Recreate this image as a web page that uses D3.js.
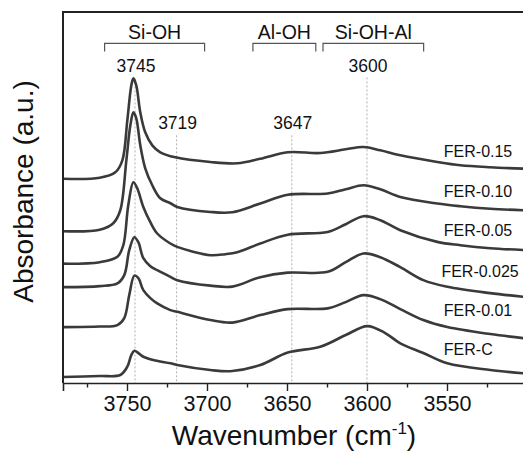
<!DOCTYPE html>
<html>
<head>
<meta charset="utf-8">
<script src="https://cdn.jsdelivr.net/npm/d3@7"></script>
<style>
  body { margin: 0; background: #fff; }
  text { font-family: "Liberation Sans", Arial, sans-serif; fill: #111; }
</style>
</head>
<body>
<div id="chart-area"></div>
<script>
// FTIR spectra, OH stretching region, offset stacked (a.u.)
var labels = ["FER-0.15", "FER-0.10", "FER-0.05", "FER-0.025", "FER-0.01", "FER-C"];

var fer015 = [[3790,2.045],[3767,2.055],[3757.3,2.11],[3752.9,2.23],[3749.8,2.63],[3747.3,2.98],[3746,3.05],[3744.2,2.98],[3741.7,2.71],[3738.6,2.51],[3734.2,2.38],[3729.2,2.31],[3719.8,2.26],[3697.9,2.213],[3681.1,2.20],[3666.7,2.245],[3649.5,2.31],[3629.2,2.303],[3613.3,2.34],[3602.2,2.363],[3591.7,2.33],[3579.2,2.28],[3556.1,2.213],[3541.7,2.18],[3523,2.16],[3500,2.145]];
var fer010 = [[3790,1.52],[3767,1.535],[3758.6,1.60],[3754.2,1.73],[3750.4,2.23],[3747.9,2.58],[3746,2.71],[3744.2,2.65],[3741.7,2.38],[3738.6,2.15],[3734.2,1.98],[3729.2,1.85],[3722.9,1.80],[3718.6,1.763],[3697.9,1.713],[3684.2,1.71],[3666.7,1.797],[3649.5,1.885],[3624.6,1.897],[3613.3,1.94],[3602.2,1.98],[3591.7,1.94],[3579.2,1.863],[3556.1,1.797],[3541.7,1.77],[3523,1.745],[3500,1.728]];
var fer005 = [[3790,1.195],[3767,1.21],[3756,1.263],[3752.3,1.38],[3749.2,1.78],[3746,2.01],[3743.6,1.95],[3739.8,1.763],[3735.4,1.61],[3731.1,1.497],[3722.9,1.397],[3718.6,1.363],[3697.9,1.28],[3688.6,1.29],[3681.1,1.31],[3666.7,1.397],[3649.5,1.485],[3624.6,1.513],[3613.3,1.59],[3602.2,1.67],[3591.7,1.63],[3579.2,1.53],[3556.1,1.413],[3541.7,1.38],[3523,1.35],[3500,1.33]];
var fer0025 = [[3790,0.96],[3767,0.97],[3756,0.997],[3751.7,1.08],[3748.6,1.33],[3745.4,1.46],[3742.9,1.41],[3739.8,1.25],[3735.4,1.17],[3731.1,1.13],[3722.9,1.063],[3718.6,1.03],[3697.9,0.975],[3684.2,0.965],[3666.7,1.06],[3649.5,1.105],[3624.6,1.113],[3613.3,1.21],[3602.2,1.297],[3591.7,1.26],[3579.2,1.16],[3564.8,1.03],[3549.8,0.963],[3523,0.90],[3500,0.86]];
var fer001 = [[3790,0.56],[3767,0.565],[3756,0.58],[3751.7,0.65],[3748.6,0.88],[3745.4,1.075],[3742.9,1.05],[3739.8,0.93],[3735.4,0.85],[3731.1,0.797],[3722.9,0.73],[3718.6,0.713],[3697.9,0.63],[3684.2,0.605],[3666.7,0.68],[3649.5,0.74],[3624.6,0.747],[3613.3,0.81],[3602.2,0.88],[3591.7,0.84],[3579.2,0.74],[3564.8,0.63],[3549.8,0.56],[3523,0.49],[3500,0.445]];
var ferC = [[3790,0.06],[3767,0.07],[3754.2,0.08],[3749.8,0.163],[3747.3,0.28],[3745.4,0.323],[3742.9,0.30],[3739.8,0.263],[3732.3,0.225],[3722.9,0.197],[3718.6,0.18],[3697.9,0.13],[3684.2,0.12],[3666.7,0.18],[3649.5,0.305],[3629.2,0.363],[3613.3,0.48],[3599.8,0.57],[3588.6,0.50],[3579.2,0.397],[3564.8,0.30],[3549.8,0.197],[3523,0.13],[3500,0.095]];

var series = [fer015, fer010, fer005, fer0025, fer001, ferC];
var labelY = [2.265, 1.865, 1.475, 1.065, 0.675, 0.28];   // text baseline level of each name

var tickValues = [3750, 3700, 3650, 3600, 3550];
var peaks = [3745, 3719, 3647, 3600];
var peakTextY = [3.115, 2.547, 2.547, 3.115];
var peakLineTop = [3.05, 2.48, 2.48, 3.06];
var groups = ["Si-OH", "Al-OH", "Si-OH-Al"];
var groupRange = [[3764, 3701.5], [3671.3, 3632], [3627.5, 3564.6]];

var margin = { left:63, right:0, top:12, bottom:79 };
var width = 523 - margin.left - margin.right;
var height = 462 - margin.top - margin.bottom;

var svg = d3.select("#chart-area")
    .append("svg")
        .attr("width", 523)
        .attr("height", 462);

var g = svg.append("g")
        .attr("transform", "translate(" + margin.left + ", " + margin.top + ")");

var xscale = d3.scaleLinear()
                .domain([3790, 3500])
                .range([0, 464]);

var yscale = d3.scaleLinear()
                .domain([0, 3.715])
                .range([height, 0]);

// dotted peak markers
g.selectAll(".peak-line")
    .data(peaks)
    .enter()
    .append("line")
        .attr("x1", function(d){ return xscale(d); })
        .attr("x2", function(d){ return xscale(d); })
        .attr("y1", function(d, i){ return yscale(peakLineTop[i]); })
        .attr("y2", height)
        .attr("stroke", "#b0b0b0")
        .attr("stroke-width", 1)
        .attr("stroke-dasharray", "2,2");

var line = d3.line()
    .x(function(d){ return xscale(d[0]); })
    .y(function(d){ return yscale(d[1]); })
    .curve(d3.curveCatmullRom.alpha(0.5));

g.selectAll(".spectrum")
    .data(series)
    .enter()
    .append("path")
        .attr("d", line)
        .attr("fill", "none")
        .attr("stroke", "#3a3a3a")
        .attr("stroke-width", 2.6)
        .attr("stroke-linejoin", "round");

g.selectAll(".name")
    .data(labels)
    .enter()
    .append("text")
        .attr("x", function(d){ return xscale(d == "FER-0.025" ? 3553.5 : 3552); })
        .attr("y", function(d, i){ return yscale(labelY[i]); })
        .attr("font-size", "16px")
        .text(function(d){ return d; });

g.selectAll(".peak-label")
    .data(peaks)
    .enter()
    .append("text")
        .attr("x", function(d){ return xscale(d) + 1; })
        .attr("y", function(d, i){ return yscale(peakTextY[i]); })
        .attr("text-anchor", "middle")
        .attr("font-size", "17.5px")
        .text(function(d){ return d; });

// group brackets
var bracketY = yscale(3.40);
groupRange.forEach(function(r, i){
    var x0 = xscale(r[0]), x1 = xscale(r[1]);
    g.append("path")
        .attr("d", "M" + x0 + "," + (bracketY + 8) + "V" + bracketY + "H" + x1 + "V" + (bracketY + 8))
        .attr("fill", "none")
        .attr("stroke", "#555")
        .attr("stroke-width", 1.2);
    g.append("text")
        .attr("x", (x0 + x1) / 2)
        .attr("y", bracketY - 4)
        .attr("text-anchor", "middle")
        .attr("font-size", "19.5px")
        .text(groups[i]);
});

var bottomAxisCall = d3.axisBottom(xscale)
    .tickValues(tickValues)
    .tickSize(8)
    .tickPadding(5)
    .tickFormat(d3.format("d"));

var minorAxisCall = d3.axisBottom(xscale)
    .tickValues([3775, 3725, 3675, 3625, 3575, 3525])
    .tickSize(4.5)
    .tickFormat("");

var bottomAxis = g.append("g")
        .attr("class","bottom-Axis")
        .attr("transform","translate(0," + height + ")")
        .call(bottomAxisCall);
bottomAxis.selectAll("text").attr("font-size", "21.5px").attr("fill", "#111");

var minorAxis = g.append("g")
        .attr("transform","translate(0," + height + ")")
        .call(minorAxisCall);

g.selectAll(".domain").attr("stroke", "#222").attr("stroke-width", 1.6);
g.selectAll(".tick line").attr("stroke", "#222").attr("stroke-width", 1.4);
minorAxis.select(".domain").remove();

// frame: left and top
g.append("path")
    .attr("d", "M0," + height + "V0H" + (width + 5))
    .attr("fill", "none")
    .attr("stroke", "#222")
    .attr("stroke-width", 2);

g.append("text")
    .attr("class","X-Axis-lable")
    .attr("x", 231)
    .attr("y", height + 62)
    .attr("text-anchor", "middle")
    .attr("font-size", "28px")
    .html('Wavenumber (cm<tspan font-size="17px" dy="-11">-1</tspan><tspan dy="11">)</tspan>');

g.append("text")
    .attr("class","Y-Axis-lable")
    .attr("x", -(height / 2) + 6)
    .attr("y", -30)
    .attr("transform","rotate(-90)")
    .attr("text-anchor", "middle")
    .attr("font-size", "28px")
    .text("Absorbance (a.u.)");
</script>
</body>
</html>
